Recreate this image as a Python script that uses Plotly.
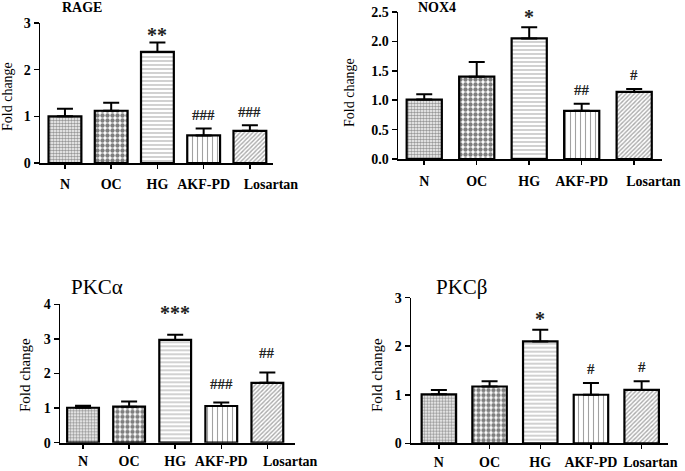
import plotly.graph_objects as go

W, H = 685, 471

categories = ["N", "OC", "HG", "AKF-PD", "Losartan"]

rage_mean = [1.00, 1.12, 2.38, 0.59, 0.69]
rage_err = [0.16, 0.17, 0.20, 0.15, 0.12]
rage_sig = ["", "", "**", "###", "###"]

nox4_mean = [1.01, 1.40, 2.05, 0.82, 1.14]
nox4_err = [0.09, 0.25, 0.19, 0.12, 0.05]
nox4_sig = ["", "", "*", "##", "#"]

pkca_mean = [1.01, 1.04, 2.97, 1.06, 1.73]
pkca_err = [0.06, 0.15, 0.15, 0.10, 0.30]
pkca_sig = ["", "", "***", "###", "##"]

pkcb_mean = [1.01, 1.17, 2.10, 1.00, 1.10]
pkcb_err = [0.09, 0.11, 0.24, 0.24, 0.18]
pkcb_sig = ["", "", "*", "#", "#"]

rage_ticks = [0, 1, 2, 3]
nox4_ticks = [0.0, 0.5, 1.0, 1.5, 2.0, 2.5]
pkca_ticks = [0, 1, 2, 3, 4]
pkcb_ticks = [0, 1, 2, 3]

# bar styles per group: (pattern shape, fg color, size, solidity)
styles = [
    (".", "#333333", 3, 0.6),
    (".", "#000000", 5, 0.6),
    ("-", "#666666", 4, 0.3),
    ("|", "#444444", 5, 0.22),
    ("/", "#555555", 3, 0.45),
]

SERIF = "Times New Roman, Liberation Serif, DejaVu Serif, serif"

panels = [
    dict(title="<b>RAGE</b>", tsize=14, tx=82, ty=8, mean=rage_mean, err=rage_err, sig=rage_sig,
         ticks=rage_ticks, fmt="", ymax=3, xl=40, xr=273, yb=163, yt=23,
         xr_range=[-0.54, 4.5], bw=0.71, ylab_x=8, ylab_y=97, lsize=14, shift=13, sshift=8,
         lpad=12, standoff=3),
    dict(title="<b>NOX4</b>", tsize=14, tx=437, ty=8, mean=nox4_mean, err=nox4_err, sig=nox4_sig,
         ticks=nox4_ticks, fmt=".1f", ymax=2.5, xl=398, xr=662, yb=159, yt=12,
         xr_range=[-0.5, 4.53], bw=0.67, ylab_x=350, ylab_y=93, lsize=14, shift=14, sshift=10,
         lpad=11, standoff=4),
    dict(title="PKCα", tsize=21, tx=97, ty=287, mean=pkca_mean, err=pkca_err, sig=pkca_sig,
         ticks=pkca_ticks, fmt="", ymax=4, xl=60, xr=295, yb=442.7, yt=304.3,
         xr_range=[-0.5, 4.6], bw=0.69, ylab_x=25, ylab_y=375, lsize=15, shift=19, sshift=22,
         lpad=13, standoff=0),
    dict(title="PKCβ", tsize=21, tx=462, ty=287, mean=pkcb_mean, err=pkcb_err, sig=pkcb_sig,
         ticks=pkcb_ticks, fmt="", ymax=3, xl=411, xr=668, yb=443.3, yt=297.7,
         xr_range=[-0.55, 4.52], bw=0.68, ylab_x=377, ylab_y=375, lsize=15, shift=14, sshift=11,
         lpad=5, standoff=1),
]

fig = go.Figure()
annotations = []
layout = {}
xpos = list(range(len(categories)))

for i, p in enumerate(panels):
    n = "" if i == 0 else str(i + 1)
    xa, ya = "x" + n, "y" + n
    fig.add_trace(go.Bar(
        x=xpos, y=p["mean"], xaxis=xa, yaxis=ya, width=p["bw"],
        marker=dict(
            color="white",
            line=dict(color="black", width=2.2),
            pattern=dict(
                shape=[s[0] for s in styles],
                fgcolor=[s[1] for s in styles],
                size=[s[2] for s in styles],
                solidity=[s[3] for s in styles],
                fillmode="overlay",
            ),
        ),
        error_y=dict(type="data", array=p["err"], arrayminus=[0] * 5, symmetric=False,
                     color="black", thickness=2, width=8),
        showlegend=False, hoverinfo="skip",
    ))
    ticktext = ["<b>%s</b>" % c for c in categories]
    ticktext[-1] = "\u00a0" * p["lpad"] + ticktext[-1]
    layout["xaxis" + n] = dict(
        domain=[p["xl"] / W, p["xr"] / W], anchor=ya, range=p["xr_range"],
        tickmode="array", tickvals=xpos, ticktext=ticktext,
        tickangle=0, ticklabelstandoff=p["standoff"], automargin=False,
        showline=True, linecolor="black", linewidth=2, ticks="outside", ticklen=4,
        tickwidth=1.5, tickcolor="black", showgrid=False, zeroline=False,
        tickfont=dict(family=SERIF, size=14, color="black"), fixedrange=True,
    )
    layout["yaxis" + n] = dict(
        domain=[1 - p["yb"] / H, 1 - p["yt"] / H], anchor=xa, range=[0, p["ymax"]],
        tickmode="array", tickvals=p["ticks"], automargin=False,
        ticktext=["<b>%s</b>" % (format(t, p["fmt"]) if p["fmt"] else str(t)) for t in p["ticks"]],
        showline=True, linecolor="black", linewidth=1.5, ticks="outside", ticklen=5,
        tickwidth=1.5, tickcolor="black", showgrid=False, zeroline=False,
        tickfont=dict(family=SERIF, size=14, color="black"), fixedrange=True,
    )
    annotations.append(dict(
        text=p["title"], x=p["tx"] / W, y=1 - p["ty"] / H, xref="paper", yref="paper",
        showarrow=False, xanchor="center", yanchor="middle",
        font=dict(family=SERIF, size=p["tsize"], color="black"),
    ))
    annotations.append(dict(
        text="Fold change", x=p["ylab_x"] / W, y=1 - p["ylab_y"] / H, xref="paper", yref="paper",
        showarrow=False, xanchor="center", yanchor="middle", textangle=-90,
        font=dict(family=SERIF, size=p["lsize"], color="black"),
    ))
    for j, s in enumerate(p["sig"]):
        if s:
            star = s.startswith("*")
            annotations.append(dict(
                text="<b>%s</b>" % s, x=xpos[j], y=p["mean"][j] + p["err"][j], xref=xa, yref=ya,
                showarrow=False, xanchor="center", yanchor="middle",
                yshift=p["sshift"] if star else p["shift"],
                font=dict(family=SERIF, size=20 if star else 15, color="#222"),
            ))

fig.update_layout(
    width=W, height=H, margin=dict(l=0, r=0, t=0, b=0),
    paper_bgcolor="white", plot_bgcolor="white",
    annotations=annotations, bargap=0.3, **layout,
)

fig.write_html(
    "out.html",
    config={"displayModeBar": False, "staticPlot": True},
    post_script="document.body.style.margin='0';document.body.style.padding='0';"
                "document.body.style.overflow='hidden';",
)
